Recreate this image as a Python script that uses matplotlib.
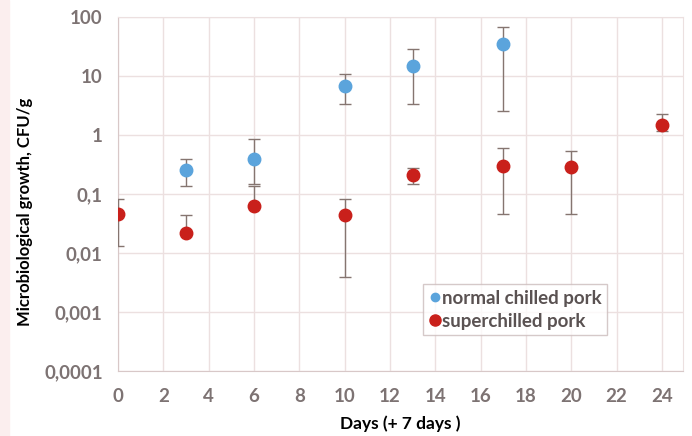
import matplotlib.pyplot as plt
from matplotlib.patches import Rectangle
from matplotlib.lines import Line2D

# normal chilled pork
normal_days = [3, 6, 10, 13, 17]
normal_cfu = [0.26, 0.39, 6.8, 15, 35]
normal_low = [0.136, 0.15, 3.4, 3.4, 2.6]
normal_high = [0.39, 0.85, 11, 29, 68]

# superchilled pork
super_days = [0, 3, 6, 10, 13, 17, 20, 24]
super_cfu = [0.045, 0.022, 0.062, 0.044, 0.21, 0.30, 0.29, 1.5]
super_low = [0.013, 0.022, 0.062, 0.004, 0.15, 0.046, 0.046, 1.15]
super_high = [0.082, 0.044, 0.135, 0.082, 0.28, 0.6, 0.54, 2.3]

x_ticks = list(range(0, 25, 2))
y_ticks = [0.0001, 0.001, 0.01, 0.1, 1, 10, 100]
y_labels = ['0,0001', '0,001', '0,01', '0,1', '1', '10', '100']

plt.rcParams['font.family'] = ['Lato', 'DejaVu Sans']

blue = '#5ba4dc'
red = '#c9201b'
err_col = '#857570'
grid_col = '#ece0e0'

fig = plt.figure(figsize=(6.92, 4.36), dpi=100)
fig.patches.append(Rectangle((0, 0), 0.013, 1, transform=fig.transFigure,
                             color='#fbeeee', zorder=-5))
ax = fig.add_axes([0.1705, 0.149, 0.8165, 0.812])

def yerr(vals, low, high):
    return [[v - l for v, l in zip(vals, low)], [h - v for v, h in zip(vals, high)]]

ax.errorbar(normal_days, normal_cfu, yerr=yerr(normal_cfu, normal_low, normal_high),
            fmt='o', color=blue, ms=9, ecolor=err_col, elinewidth=1, capsize=4,
            capthick=1, zorder=3)
ax.errorbar(super_days, super_cfu, yerr=yerr(super_cfu, super_low, super_high),
            fmt='o', color=red, ms=9, ecolor=err_col, elinewidth=1, capsize=4,
            capthick=1, zorder=3)

ax.set_yscale('log')
ax.set_ylim(0.0001, 100)
ax.set_xlim(0, 24.93)
ax.set_yticks(y_ticks)
ax.set_yticklabels(y_labels)
ax.minorticks_off()
ax.set_xticks(x_ticks)
ax.grid(True, color=grid_col, linewidth=1)
ax.set_axisbelow(True)
for s in ax.spines.values():
    s.set_color(grid_col)
ax.spines['left'].set_color('#d8c8c8')
ax.spines['bottom'].set_color('#d8c8c8')
ax.tick_params(length=0, labelsize=13.5, labelcolor='#7d7373')
ax.tick_params(axis='y', pad=11)
ax.tick_params(axis='x', pad=12)
for t in ax.get_xticklabels() + ax.get_yticklabels():
    t.set_fontweight('bold')

ax.set_xlabel('Days (+ 7 days )', fontsize=12.5, fontweight='bold', labelpad=8)
ax.set_ylabel('Microbiological growth, CFU/g', fontsize=12, fontweight='bold')
ax.yaxis.set_label_coords(-0.15, 0.45)

handles = [Line2D([], [], ls='none', marker='o', color=blue, ms=6),
           Line2D([], [], ls='none', marker='o', color=red, ms=8)]
leg = ax.legend(handles, ['normal chilled pork', 'superchilled pork'],
                loc='upper left', bbox_to_anchor=(0.54, 0.245), frameon=True,
                fancybox=False, edgecolor='#cbbcbc', fontsize=13.5,
                handletextpad=0.0, handlelength=0.7, borderpad=0.3,
                labelspacing=0.3, borderaxespad=0)
leg.get_frame().set_linewidth(1)
for t in leg.get_texts():
    t.set_color('#5a5252')
    t.set_fontweight('bold')

fig.savefig('out.png', dpi=100)
